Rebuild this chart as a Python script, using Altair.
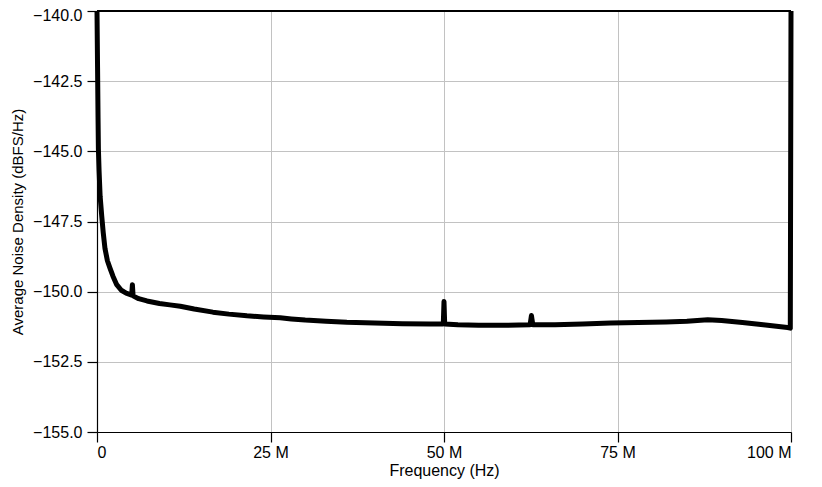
import altair as alt
import pandas as pd

freq_mhz = [0.0, 0.08, 0.15, 0.2, 0.3, 0.45, 0.68, 0.9, 1.15, 1.5, 1.87, 2.3, 2.84, 3.5, 4.2,
            5.0, 5.1, 5.2, 6.0, 7.2, 9.0, 10.5, 12.0, 14.0, 16.7, 19.0, 21.6, 24.0, 26.4, 28.0,
            30.0, 33.0, 36.0, 40.0, 44.0, 48.0, 49.9, 50.0, 50.1, 52.0, 55.0, 58.0, 62.4, 62.6,
            62.8, 66.0, 70.0, 74.0, 78.0, 82.0, 85.0, 88.0, 90.0, 93.0, 96.0, 99.5, 99.9, 100.0]
density = [-140.0, -142.0, -143.8, -144.9, -145.7, -146.6, -147.3, -147.9, -148.46, -148.9,
           -149.16, -149.45, -149.75, -149.95, -150.05, -150.12, -149.75, -150.15, -150.25,
           -150.33, -150.42, -150.47, -150.52, -150.62, -150.73, -150.8, -150.86, -150.9,
           -150.93, -150.97, -151.01, -151.05, -151.09, -151.12, -151.14, -151.15, -151.15,
           -150.35, -151.15, -151.18, -151.2, -151.2, -151.18, -150.85, -151.18, -151.18,
           -151.15, -151.12, -151.1, -151.08, -151.05, -151.0, -151.03, -151.1, -151.18,
           -151.28, -151.3, -140.0]

x_ticks = [0, 25, 50, 75, 100]
y_ticks = [-155.0, -152.5, -150.0, -147.5, -145.0, -142.5, -140.0]

df = pd.DataFrame({"f": freq_mhz, "v": density, "order": list(range(len(freq_mhz)))})

FONT = "Liberation Sans"
PLOT_W, PLOT_H = 694, 421

x_enc = alt.X("f:Q", scale=alt.Scale(domain=[0, 100], nice=False),
              axis=alt.Axis(values=x_ticks, title="Frequency (Hz)",
                            labelExpr="datum.value == 0 ? '0' : datum.value + ' M'",
                            gridColor="#c2c2c2", tickSize=10, labelPadding=2,
                            titleY=43, titleBaseline="alphabetic"))
y_enc = alt.Y("v:Q", scale=alt.Scale(domain=[-155, -140], nice=False, zero=False),
              axis=alt.Axis(values=y_ticks, format=".1f",
                            title="Average Noise Density (dBFS/Hz)",
                            gridColor="#c2c2c2", tickSize=10, labelPadding=5,
                            labelOffset=alt.condition("datum.value == -140", alt.value(4), alt.value(0)),
                            titleX=-80, titleY=PLOT_H / 2, titleBaseline="middle",
                            titleAngle=-90, titleFontSize=15))

line = alt.Chart(df).mark_line(color="black", strokeWidth=5, strokeJoin="round").encode(
    x=x_enc, y=y_enc, order="order:Q")

top = alt.Chart(df).mark_rule(color="black", strokeWidth=1).encode(y=alt.datum(-140))

chart = alt.layer(line, top).properties(
    width=PLOT_W, height=PLOT_H,
    autosize=alt.AutoSizeParams(type="none"),
    padding={"left": 89, "top": 3, "right": 23, "bottom": 47},
).configure_view(stroke="#666666", strokeWidth=1).configure_axis(
    labelFont=FONT, titleFont=FONT, labelFontSize=16, titleFontSize=16,
    titleFontWeight="normal", labelColor="black", titleColor="black",
    domainColor="black", tickColor="black", domainWidth=1.2, tickWidth=1.2,
)

chart.save("out.html", embed_options={"renderer": "svg", "actions": False})
